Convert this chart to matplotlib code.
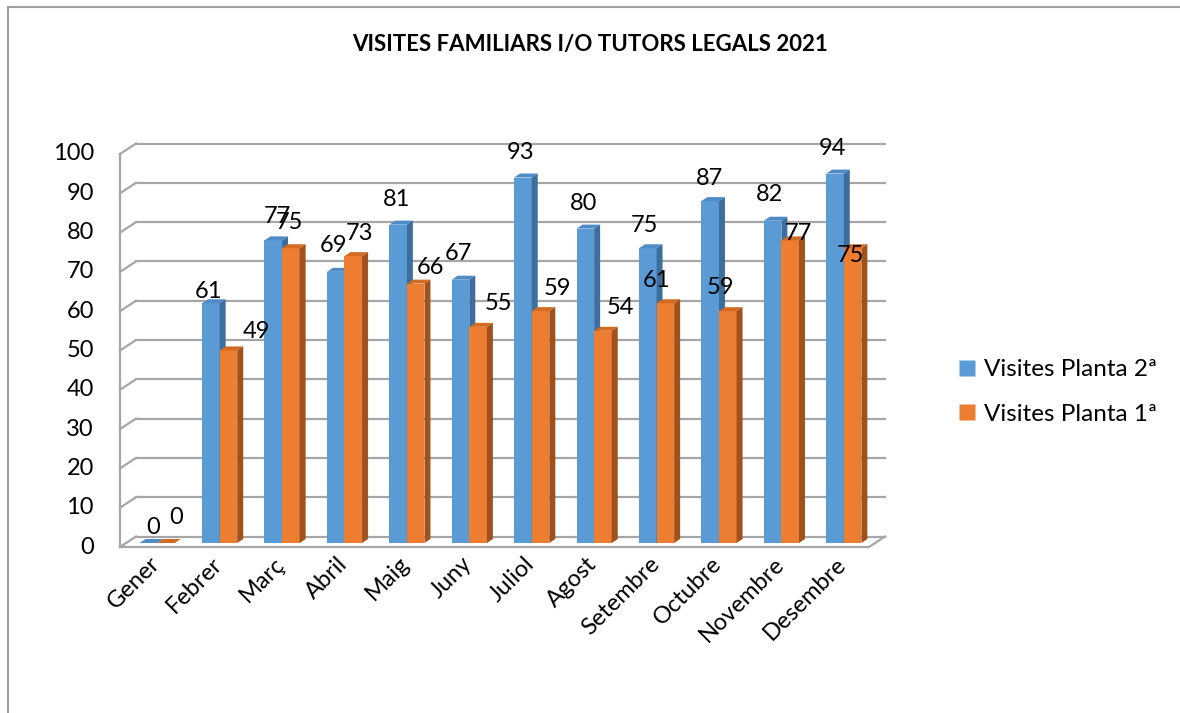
import matplotlib
matplotlib.use('Agg')
import matplotlib.pyplot as plt
from matplotlib.patches import Polygon
from matplotlib.lines import Line2D

plt.rcParams['font.family'] = ['Lato', 'DejaVu Sans']

months = ['Gener', 'Febrer', 'Març', 'Abril', 'Maig', 'Juny', 'Juliol',
          'Agost', 'Setembre', 'Octubre', 'Novembre', 'Desembre']
planta2 = [0, 61, 77, 69, 81, 67, 93, 80, 75, 87, 82, 94]
planta1 = [0, 49, 75, 73, 66, 55, 59, 54, 61, 59, 77, 75]
series_names = ['Visites Planta 2ª', 'Visites Planta 1ª']
yticks = list(range(0, 101, 10))

# label nudges (pixels, relative to top centre of each bar), as Excel placed them
nudge2_x = [5, -2, 4, -2, -2, -2, -2, -2, -3, -1, -3, -3]
nudge2_y = [15, 12, 24, 26, 25, 26, 25, 25, 23, 23, 26, 25]
nudge1_x = [10, 28, -1, 6, 15, 20, 17, 17, -9, -7, 8, -2]
nudge1_y = [26, 19, 26, 23, 16, 23, 23, 23, 23, 24, 7, -7]

W, H = 1180, 713
fig = plt.figure(figsize=(W / 100, H / 100), dpi=100)
ax_l, ax_r, ax_t, ax_b = 120, 869, 154, 547
ax = fig.add_axes([ax_l / W, 1 - ax_b / H, (ax_r - ax_l) / W, (ax_b - ax_t) / H])
ax.set_xlim(0, 12)
ax.set_ylim(0, 100)
ax.axis('off')

# pixel -> data helpers
sx = (ax_r - ax_l) / 12.0
sy = (ax_b - ax_t) / 100.0
def px(p):
    return p / sx
def py(p):
    return p / sy

grid_c = '#A6A6A6'
wall_dx, wall_dy = 16, 10.5
bar_dx, bar_dy = 6, 4
bar_w = 17.6

# walls / gridlines
for v in yticks:
    ax.plot([px(wall_dx), 12 + px(wall_dx)], [v + py(wall_dy)] * 2,
            color=grid_c, lw=1.6, clip_on=False, zorder=1)
    ax.plot([0, px(wall_dx)], [v, v + py(wall_dy)],
            color=grid_c, lw=1.6, clip_on=False, zorder=1)
    ax.text(-px(26), v, str(v), ha='right', va='center', fontsize=17)
ax.plot([0, 0], [0, 100], color=grid_c, lw=1.6, clip_on=False, zorder=1)
ax.plot([0, 12, 12 + px(wall_dx)], [0, 0, py(wall_dy)],
        color=grid_c, lw=1.6, clip_on=False, zorder=1)

colors = [('#5B9BD5', '#4F8CC7', '#3D6E9E'),
          ('#ED7D31', '#D46B22', '#A0511C')]
nudges = [(nudge2_x, nudge2_y), (nudge1_x, nudge1_y)]

z = 2
for i in range(len(months)):
    for s, vals in enumerate([planta2, planta1]):
        v = vals[i]
        front, top, side = colors[s]
        x0 = i + 0.5 - px(bar_w) + s * px(bar_w) + px(bar_dx)
        x1 = x0 + px(bar_w)
        y0 = py(bar_dy)
        ax.bar(x0, v, width=px(bar_w), bottom=y0, align='edge', color=front,
               edgecolor='none', zorder=z, clip_on=False)
        yt = y0 + v
        ax.add_patch(Polygon([(x0, yt), (x1, yt), (x1 + px(6), yt + py(4)),
                              (x0 + px(6), yt + py(4))], closed=True,
                             facecolor=top, edgecolor='none', zorder=z, clip_on=False))
        ax.add_patch(Polygon([(x1, y0), (x1, yt), (x1 + px(6), yt + py(4)),
                              (x1 + px(6), y0 + py(4))], closed=True,
                             facecolor=side, edgecolor='none', zorder=z, clip_on=False))
        nx, ny = nudges[s]
        ax.text((x0 + x1) / 2 + px(nx[i]), yt + py(ny[i]), str(v),
                ha='center', va='center', fontsize=17, zorder=200)
        z += 1

# month labels
for i, m in enumerate(months):
    ax.text(i + 0.5 - px(2), -py(6), m, rotation=45, ha='right', va='top',
            rotation_mode='anchor', fontsize=17)

fig.text(590 / W, 1 - 45 / H, 'VISITES FAMILIARS I/O TUTORS LEGALS 2021',
         ha='center', va='center', fontsize=16, fontweight='bold')

handles = [Line2D([], [], marker='s', ls='none', markersize=11,
                  markerfacecolor=colors[k][0], markeredgecolor='none')
           for k in range(2)]
fig.legend(handles, series_names, loc='center left',
           bbox_to_anchor=(933 / W, 1 - 392 / H), frameon=False,
           fontsize=17.5, handletextpad=0.2, labelspacing=0.95, handlelength=1.0)

# chart border (top and left edges visible)
fig.add_artist(Line2D([8 / W, 8 / W], [0, 1 - 7 / H], color='#A0A0A0', lw=1.5))
fig.add_artist(Line2D([8 / W, 1], [1 - 7 / H, 1 - 7 / H], color='#A0A0A0', lw=1.5))

fig.savefig('out.png', dpi=100, facecolor='white')
